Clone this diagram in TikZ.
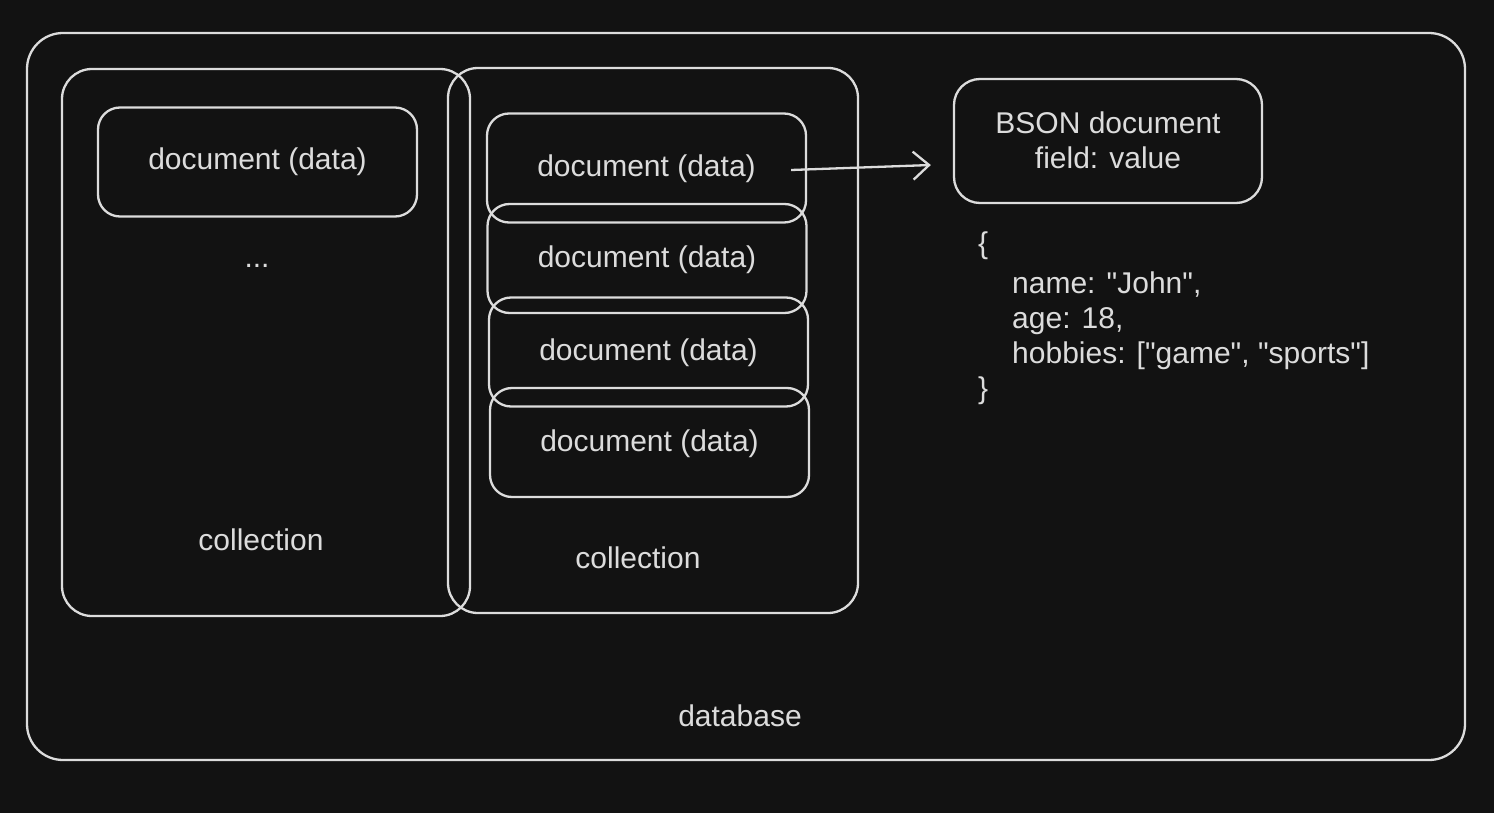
\documentclass[tikz,border=0pt]{standalone}
\usepackage{fontspec}
\setmainfont{Liberation Sans}[Ligatures=TeXOff]
\usetikzlibrary{arrows.meta,calc}
\definecolor{bg}{HTML}{121212}
\definecolor{ink}{HTML}{DCDCDC}
\begin{document}
\begin{tikzpicture}[x=1pt,y=-1pt,
  box/.style={draw=ink,line width=2.3pt,rounded corners=30pt,inner sep=0pt},
  docbox/.style={box,rounded corners=22pt,minimum width=319pt,minimum height=109pt,text=ink,font=\fontsize{30}{35}\selectfont},
  lbl/.style={text=ink,font=\fontsize{30}{35}\selectfont,inner sep=0pt},
  arrowline/.style={draw=ink,line width=2.3pt,-{Straight Barb[length=16pt,width=28pt,line width=2.3pt]}}]
\fill[bg] (0,0) rectangle (1494,813);
\useasboundingbox (0,0) rectangle (1494,813);
% database
\node[box,rounded corners=36pt,minimum width=1438pt,minimum height=727pt] (db) at (746,396.5) {};
\node[lbl] (dblabel) at (740,716) {database};
% collections
\node[box,minimum width=408pt,minimum height=547pt] (col1) at (266,342.5) {};
\node[lbl] (col1label) at (261,540) {collection};
\node[box,minimum width=410pt,minimum height=545pt] (col2) at (653,340.5) {};
\node[lbl] (col2label) at (638,558) {collection};
% documents
\node[docbox] (a1) at (257.5,162) {};
\node[lbl] at (a1) (a1t) {document (data)};
\node[lbl,anchor=base] (dots) at (257,268) {...};
\node[docbox] (d1) at (646.5,168) {};
\node[lbl] (d1t) at ([yshift=-1pt]d1) {document (data)};
\node[docbox] (d2) at (647,258.5) {};
\node[lbl] (d2t) at ([yshift=-1pt]d2) {document (data)};
\node[docbox] (d3) at (648.5,352) {};
\node[lbl] (d3t) at ([yshift=-1pt]d3) {document (data)};
\node[docbox] (d4) at (649.5,442.5) {};
\node[lbl] (d4t) at ([yshift=-1pt]d4) {document (data)};
% BSON
\node[box,rounded corners=26pt,minimum width=308pt,minimum height=124pt] (bson) at (1108,141) {};
\node[lbl,align=center] (bsont) at ([yshift=1pt]bson) {BSON document\\field: value};
\draw[arrowline] ([xshift=-16pt,yshift=-2pt]d1.east) -- ([xshift=-22pt,yshift=-24pt]bson.west);
% JSON
\node[lbl,anchor=north west,align=left] (json) at (978,232) {\{\\[5pt]\hspace*{34pt}name: "John",\\\hspace*{34pt}age: 18,\\\hspace*{34pt}hobbies: ["game", "sports"]\\\}};
\end{tikzpicture}
\end{document}
